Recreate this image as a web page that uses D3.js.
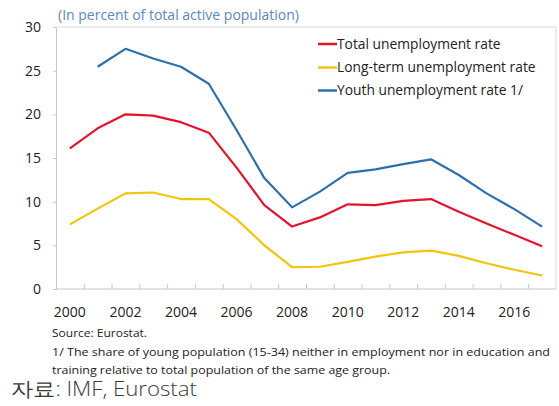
<!DOCTYPE html>
<html>
<head>
<meta charset="utf-8">
<script src="https://cdn.jsdelivr.net/npm/d3@7/dist/d3.min.js"></script>
<style>
  html, body { margin: 0; padding: 0; background: #fff; }
  svg { display: block; }
  text { font-family: "Open Sans", "Noto Sans", sans-serif; }
</style>
</head>
<body>
<svg id="chart" width="559" height="406"></svg>
<script>
// Years on the category axis
const years = d3.range(2000, 2018);

// Rates in percent of total active population
const totalRate = [16.1, 18.4, 20.0, 19.85, 19.1, 17.9, 13.9, 9.6, 7.15, 8.2, 9.7, 9.6, 10.1, 10.3, 8.85, 7.5, 6.2, 4.9];
const longTermRate = [7.4, 9.2, 10.95, 11.05, 10.3, 10.3, 8.0, 5.0, 2.5, 2.55, 3.1, 3.7, 4.2, 4.4, 3.8, 2.95, 2.2, 1.55];
// Youth series starts in 2001
const youthRate = [null, 25.45, 27.5, 26.4, 25.45, 23.5, 18.2, 12.7, 9.35, 11.15, 13.3, 13.7, 14.3, 14.85, 13.05, 10.95, 9.15, 7.15];

const seriesNames = ["Total unemployment rate", "Long-term unemployment rate", "Youth unemployment rate 1/"];
const seriesColors = ["#e3142c", "#f2c40c", "#2f6fae"];
const seriesValues = [totalRate, longTermRate, youthRate];

const yTicks = [0, 5, 10, 15, 20, 25, 30];
const xLabelYears = [2000, 2002, 2004, 2006, 2008, 2010, 2012, 2014, 2016];

const titleText = "(In percent of total active population)";
const footLines = [
  "Source: Eurostat.",
  "1/ The share of young population (15-34) neither in employment nor in education and",
  "training relative to total population of the same age group."
];
const sourceKo = "자료: IMF, Eurostat";

const svg = d3.select("#chart");
const plot = { left: 56, right: 556, top: 27, bottom: 289 };

const x = d3.scaleBand().domain(years).range([plot.left, plot.right]).padding(0);
const y = d3.scaleLinear().domain([0, 30]).range([plot.bottom, plot.top]);
const cx = d => x(d) + x.bandwidth() / 2;

// Plot frame (top and right edges)
svg.append("path")
  .attr("d", `M${plot.left},${plot.top}H${plot.right}V${plot.bottom}`)
  .attr("fill", "none").attr("stroke", "#d9d9d9").attr("stroke-width", 1);

// Y axis
const yAxis = svg.append("g")
  .attr("transform", `translate(${plot.left},0)`)
  .call(d3.axisLeft(y).tickValues(yTicks).tickSize(3).tickSizeOuter(0).tickPadding(12));
yAxis.select(".domain").attr("stroke", "#c6c6c6");
yAxis.selectAll(".tick line").attr("stroke", "#c6c6c6");
yAxis.selectAll("text").attr("font-size", 14).attr("fill", "#222")
  .attr("font-family", "'Open Sans', sans-serif");

// X axis: baseline with inward tick marks at category boundaries
const xg = svg.append("g");
xg.append("line")
  .attr("x1", plot.left).attr("x2", plot.right)
  .attr("y1", y(0)).attr("y2", y(0))
  .attr("stroke", "#c6c6c6");
xg.selectAll("line.tk").data(years.slice(1)).join("line")
  .attr("class", "tk")
  .attr("x1", d => x(d) + 0.5).attr("x2", d => x(d) + 0.5)
  .attr("y1", y(0)).attr("y2", y(0) - 5)
  .attr("stroke", "#c6c6c6");
xg.selectAll("text").data(xLabelYears).join("text")
  .attr("x", d => cx(d)).attr("y", 312)
  .attr("dy", "0.35em")
  .attr("text-anchor", "middle")
  .attr("font-size", 14).attr("fill", "#222")
  .text(d => d);

// Series lines
const line = d3.line()
  .defined(d => d.v != null)
  .x(d => cx(d.year))
  .y(d => y(d.v));

seriesValues.forEach((vals, i) => {
  svg.append("path")
    .datum(years.map((yr, j) => ({ year: yr, v: vals[j] })))
    .attr("d", line)
    .attr("fill", "none")
    .attr("stroke", seriesColors[i])
    .attr("stroke-width", 2.2)
    .attr("stroke-linejoin", "round");
});

// Legend
const legend = svg.append("g");
const legendRows = [44, 67.5, 90.5];
seriesNames.forEach((name, i) => {
  legend.append("line")
    .attr("x1", 318).attr("x2", 337)
    .attr("y1", legendRows[i]).attr("y2", legendRows[i])
    .attr("stroke", seriesColors[i]).attr("stroke-width", 2.5);
  legend.append("text")
    .attr("x", 337).attr("y", legendRows[i])
    .attr("dy", "0.35em")
    .attr("font-size", 13.8).attr("fill", "#222")
    .text(name);
});

// Title
svg.append("text")
  .attr("x", 58).attr("y", 15).attr("dy", "0.35em")
  .attr("font-size", 14).attr("fill", "#5a88be")
  .text(titleText);

// Footnotes, stretched to their set line widths
const footY = [333, 351.5, 369.5];
const footW = [95, 498, 338];
footLines.forEach((t, i) => {
  svg.append("text")
    .attr("x", 52).attr("y", footY[i]).attr("dy", "0.35em")
    .attr("font-size", 11.6).attr("fill", "#222")
    .attr("textLength", footW[i]).attr("lengthAdjust", "spacingAndGlyphs")
    .text(t);
});

svg.append("text")
  .attr("x", 11).attr("y", 389).attr("dy", "0.35em")
  .attr("font-size", 20).attr("fill", "#3a3a3a")
  .attr("font-family", "'Noto Sans CJK KR', sans-serif")
  .attr("font-weight", 300)
  .attr("textLength", 186).attr("lengthAdjust", "spacingAndGlyphs")
  .text(sourceKo);
</script>
</body>
</html>
